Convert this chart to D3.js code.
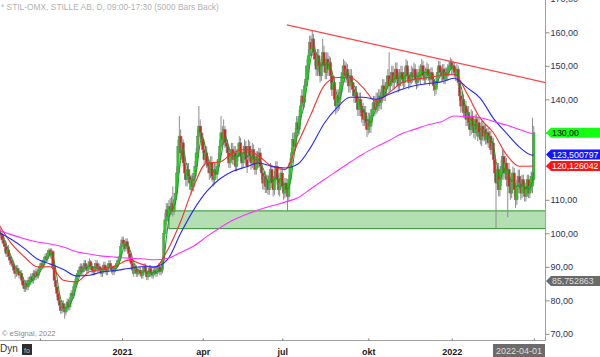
<!DOCTYPE html>
<html><head><meta charset="utf-8">
<script src="https://cdn.jsdelivr.net/npm/d3@7"></script>
<style>body{margin:0;background:#fff}svg{display:block;font-family:"Liberation Sans",Arial,sans-serif}</style>
</head><body><svg id="c" width="600" height="357"></svg>
<script>
// ---- data ----
const openP = [
102,101,100,99.5,98,97,96,94,95,93,
92,91,90.5,89,88,89.5,88.5,87.5,88,86,
84.5,83.5,85,84,86,85.5,87,86,88,87,
88.5,87.5,89,90,91,90.5,92,93,92.5,94,
95,93.5,94.5,90,86,84,82,80,78.5,77,
79,77.5,76.5,78,79.5,78,80,82,81.5,84,
85,87,88,89,90,88.5,89.5,91,90,
89,90.5,91.5,90,89,88.5,90,91,89.5,90,
89,88,89.5,90.5,89,88.5,90,91,90,89,
88.5,89.5,90,91,92,93,96,98,97,95.5,
97.5,96,94,92.5,91,88,90,89.5,88,
88.5,89,88,87.5,89,90,88.5,87,88,89.5,
88,87.5,88.5,89,88,89.5,90,88.5,89,92,
100,104,107,105,108,107,109,106.5,110,112,
118,126,129,124,127,121,118,116,119,117,
113,116,114,117,120,124,129,132,130,
128,125,122,124,121,120,118,121,117,116,
119,117.5,120,122,126,130,128,131,127,126,
124,121,123,125,122,124,120,123,125,127,
123,121,124,126,122,124,126,123,121,
125,122,119,123,121,124,120,118,115,117,
114,116,113,117,119,115,113,117,120,116,
113,115,118,114,112,115,113,111,116,121,
124,128,126,130,133,131,135,138,141,139,
144,146,150,153,157,155,158,154,152,
149,153,150,147,151,154,150,148,152,149,
151,147,143,145,140,138,141,139,142,145,
148,150,147,149,146,144,147,145,143,141,
142,139,137,140,138,137,134,136,133,
131,134,132,135,137,139,137,140,138,141,
139,142,144,141,143,145,147,144,146,148,
145,147,149,146,144,147,148,146,145,148,
150,147,145,146,148,147,149,146,145,147,
146,149,150,147,146,148,149,147,146,
148,146,144,143,145,148,150,148,147,149,
146,148,147,149,150,151,149,150,148,147,
149,145,141,138,140,136,138,134,136,133,
131,135,132,130,134,129,133,130,128,
132,129,131,128,130,127,129,125,127,122,
118,115,119,113,116,120,123,118,121,116,
119,114,112,116,118,113,110,114,117,115,
112,116,114,111,113,116,112,114,114,116];
const closeP = [
101,100,99.5,98,97,96,94,95,93,92,
91,90.5,89,88,89.5,88.5,87.5,88,86,84.5,
83.5,85,84,86,85.5,87,86,88,87,88.5,
87.5,89,90,91,90.5,92,93,92.5,94,95,
93.5,94.5,90,86,84,82,80,78.5,77,79,
77.5,76.5,78,79.5,78,80,82,81.5,84,85.5,
87,88,89,90,88.5,89.5,91,90,89,
90.5,91.5,90,89,88.5,90,91,89.5,90,89,
88,89.5,90.5,89,88.5,90,91,90,89,88.5,
89.5,90,91,92,93,96,98,97,95.5,97.5,
96,94,92.5,91,89,90,89.5,88,88.5,
89,88,87.5,89,90,88.5,87,88,89.5,88,
87.5,88.5,89,88,89.5,90,88.5,89,92,100,
104,107,105,108,107,109,106.5,110,112,118,
126,129,124,127,121,118,116,119,117,115,
116,114,117,120,124,129,132,130,128,
125,122,124,121,120,118,121,117,116,119,
117.5,120,122,126,130,128,131,127,126,124,
121,123,125,122,124,120,123,125,127,123,
121,124,126,122,120,126,123,121,125,
122,119,123,121,124,120,118,115,117,114,
116,113,117,119,115,113,117,120,116,113,
115,118,114,112,115,113,111,116,121,124,
128,126,130,133,131,135,138,141,139,144,
146,150,153,157,155,158,154,152,149,
153,150,147,151,154,150,148,152,149,151,
147,143,145,140,138,141,139,142,145,148,
150,147,149,146,144,147,145,143,141,142,
139,137,140,138,135,134,136,133,131,
134,132,135,137,139,137,140,138,141,139,
142,144,141,143,145,147,144,146,148,145,
147,149,146,144,147,148,146,145,148,150,
147,145,146,148,147,149,146,145,147,148,
149,150,147,146,148,149,147,146,148,
146,144,143,145,148,150,148,147,149,146,
148,147,149,150,151,149,150,148,147,149,
145,141,138,140,136,138,134,136,133,131,
135,132,130,134,131,133,130,128,132,
129,131,128,130,127,129,125,127,122,118,
115,119,113,116,120,123,118,121,116,119,
114,112,116,118,113,110,114,117,115,112,
116,114,111,113,116,112,114,117,118,130];
const highP = [
103,102,101.5,100.5,99.5,98,97.5,96,96.5,94,
93,92,91.5,90,90.5,90.5,89.5,89,89,87,
85.5,86,86,87,87,88,88,89,89,89.5,
89.5,90,91,92,92,93,94,94,95,95.5,
95.5,95.5,95,91,87,85,83,81,80,80,
80,79,79,80.5,80.5,81,83,83,85,86.5,
88,89,90,91,91,90.5,92,92,91,
91.5,92.5,92,91,90,91,92,92,91,91,
90,90.5,91.5,91.5,90,91,92,92,91,90,
90.5,91,92,93,94,97,99,99,98,98.5,
98.5,97,95,93.5,92,91,91,90.5,89.5,
90,90,89,90,91,91,89.5,89,90.5,90.5,
89,89.5,90,90,90.5,91,91,90,93,101,
106,109,109,110,110.5,111,114,112,114,120,
128,135,131,129,128,123,120,121,121,119,
117.5,118,118,121.5,125.5,131,138,134,132,
130,127,126,126,123,122,123,123,119,121,
121,122,124,128,135,132,134,132,129,128,
126,125,127,127,126,126,124.5,127,129,128.5,
124.5,126,128,127.5,124,128,127.5,124.5,127,
126.5,123.5,124.5,124.5,125.5,125.5,121.5,119.5,118.5,118.5,
117.5,117.5,118.5,121,120.5,116.5,118.5,121.5,121.5,117.5,
116.5,119.5,119.5,115.5,116.5,116.5,114.5,117.5,122.5,125.5,
130,130,131.5,135,134.5,137,140,143,143,145.5,
150,152,155,159,159,160.5,159.5,156,154,
155,155,152,153,158,156,152,154,154,153,
152.5,149,147,147,142,143,143,144,147,150,
152,151.5,151,150.5,148,149,149,147,145,144,
144,141,142,142,140,139,138,138,135,
136,136,137,139,141,141,142,142,143,143,
144,146,146,145,147,149,154,148,150,150,
149,151,151,148,149,150,150,148,149.5,152,
151.5,149,148,150,149.5,151,150.5,148,149,150,
150.5,152,151.5,148.5,149.5,151,150.5,148.5,149.5,
149.5,147.5,145.5,146.5,149.5,151.5,151.5,149.5,150.5,150.5,
149.5,149.5,150.5,151.5,152.5,152,151.5,151,149.5,150.5,
150,146.5,142.5,142,141.5,140,139.5,137.5,138,135,
137,136.5,133.5,135.5,135.5,134.5,134.5,131.5,133.5,
133.5,132.5,132.5,131.5,131.5,130.5,130.5,128.5,128.5,123.5,
120,121,121,118,122,125,124.5,123,122.5,121,
121,116,118,120,119.5,115,116,119,119,117,
117.5,117.5,115.5,115,117.5,117.5,115.5,118.5,134.5,132];
const lowP = [
100,98.5,98.5,97,96,94.5,93,93,92,90.5,
90,89.5,88,86.5,87,87.5,86.5,86.5,85,83.5,
82.5,82.5,83,83,84.5,84.5,85,85,86,86,
86.5,86.5,88,89,89.5,89.5,91,91.5,91.5,93,
92.5,92.5,89,85,83,81,79,77,76,76,
76.5,74.5,75.5,77,77,77,79,80.5,80.5,83,
84,86,87,88,87.5,87.5,88.5,89,88,
88,89.5,89,88,87.5,87.5,89,88.5,88.5,88,
87,87,88.5,88,87.5,87.5,89,89,88,87.5,
87.5,88.5,89,90,91,92,95,96,94.5,94.5,
95,93,91.5,90,88,87,88.5,87,87,
87.5,87,86.5,86.5,88,87.5,86,86,87,87,
86.5,86.5,87.5,87,87,88.5,87.5,87.5,88,91,
99,102.5,103.5,104,105.5,105.5,105,105.5,108.5,111,
117,124,122,122,120,116,114,114,115,113,
111.5,112.5,112.5,115.5,118.5,122.5,127,128,126,
124,120,120.5,119.5,118,116,116.5,115.5,114,114.5,
116,116,118.5,121,125,126,126.5,125.5,124,122,
119.5,119.5,121.5,120.5,120.5,118.5,118.5,121.5,123.5,121.5,
119.5,119.5,122.5,120.5,118,122,121.5,119,119.5,
120.5,117.5,117.5,119.5,119.5,118.5,116,113,113,112,
112,111.5,111.5,115.5,113.5,111,111.5,115.5,114.5,111.5,
111,113.5,112.5,110,110.5,111,106.5,109.5,114.5,119.5,
122.5,124,124.5,128.5,129,129.5,133.5,136,137,137.5,
142.5,144,148,151.5,153,153,152,150,147,
147,148,145,145.5,149.5,148,146,146,147,147,
145,141,141,138,135.5,136,136.5,137,140,143,
146,145,145,144,142,142,143,141,139,139,
137,135,135,136,133,132,132,131,128.7,
129.5,130,130,133,135,135,135.5,136,136.5,137,
137,140,139.5,139.5,141,143,142,142.5,144,143,
143,145,144,142,142.5,145,144,143,143.5,146,
145.5,143,143.5,144.5,145,145.5,144.5,143,143.5,145.5,
144.5,147.5,145.5,144.5,144.5,146.5,145.5,144,144.5,
144.5,142.5,141,141.5,143.5,146.5,146.5,145.5,145.5,144.5,
144.5,145.5,145.5,147.5,148.5,147.5,147.5,146.5,145.5,145.5,
144,139.5,136,136.5,134.5,134.5,132,132,131,129,
129.5,130.5,128.5,128,129.5,127.5,128.5,126.5,126,
127.5,127.5,126.5,126.5,125.5,125.5,123.5,123.5,120.5,115.5,
101.5,113,111,111,114,118,116,116.5,114,104.8,
112,110,110.5,114,111,107.5,108.5,112,113,110,
110.5,112,109.5,109.5,111,110.5,110.5,112.5,112,115];

const startDate = "2020-08-18";
const holidays = ["2020-12-24","2020-12-25","2020-12-31","2021-01-01","2021-01-06","2021-04-02","2021-04-05","2021-05-13","2021-06-25","2021-12-24","2021-12-31","2022-01-06"];
const monthNames = ["jan","feb","mar","apr","maj","jun","jul","aug","sep","okt","nov","dec"];

// moving averages at these bar indexes
const maIdx = [0,10,20,30,40,50,60,70,80,90,100,110,120,130,140,150,160,170,180,190,200,210,220,230,240,250,260,270,280,290,300,310,320,330,340,350,360,370,380,390,400,410,411];
const redMA = [103,97,93,90,90,86,85.5,88.5,89.3,90.2,92,90.8,89.7,95,103.5,114,121,121.3,124,125,123,120,119,127,135.5,144,146.5,146.5,143.5,139.3,142,145,146,146.5,147.2,147.5,141.5,134.3,130,123.5,120,120.1,120.13];
const blueMA = [100.3,98.2,95.5,92.3,90.8,89.2,87.3,87.5,88.5,88.9,89.5,90,90,92.2,100,107,112.5,116.2,118.5,119.8,121,120,119.5,120.7,125.8,132.7,137.5,140.6,140.6,140,141.5,143,144.1,144.7,145.2,146.3,143.4,140.3,134.3,129.9,125.7,123.3,123.5];
const magentaMA = [101,99.6,98.4,97.4,96.8,95.9,94.5,93.8,93.2,92.9,92.6,92.4,92.1,92.5,94.3,96.2,99,101.6,103.9,105.6,107,108.2,109.3,110.6,113.3,116,118.6,121.2,123.7,125.8,127.7,129.8,131.1,132.4,133.3,135,134.8,134.5,133.4,132.3,131,129.8,129.8];
const greenPeriod = 5;

const trendIdx = [221.5, 420];
const trendVal = [162.2, 145.0];
const zoneIdx = [131, 420];
const zoneVal = [101.4, 106.7];

const yTicks = [70,80,90,100,110,120,130,140,150,160,170];
const tagValues = [130, 123.500797, 120.126042, 85.752863];
const tagLabels = ["130,00", "123,500797", "120,126042", "85,752863"];
const tagFill = ["#12ff12", "#1414ff", "#ff1414", "#6a6a6a"];
const tagText = ["#000", "#fff", "#fff", "#dcdcdc"];
const titleText = "* STIL-OMX, STILLE AB, D, 09:00-17:30 (5000 Bars Back)";
const cursorDate = "2022-04-01";

// ---- build ----
const N = closeP.length;
const dates = [];
{
  const d = new Date(startDate + "T00:00:00Z");
  while (dates.length < N) {
    const s = d.toISOString().slice(0,10), dow = d.getUTCDay();
    if (dow !== 0 && dow !== 6 && !holidays.includes(s)) dates.push(new Date(d));
    d.setUTCDate(d.getUTCDate() + 1);
  }
}
const idxJan21 = dates.findIndex(d => d.getUTCFullYear() === 2021);
const AX = 545.5, BY = 340.5;
const x = d3.scaleLinear().domain([idxJan21, N - 1]).range([122, 533.8]);
const y = d3.scaleLinear().domain([70, 160]).range([333.8, 32.3]);

const svg = d3.select("#c");
svg.append("defs").append("clipPath").attr("id", "plot")
  .append("rect").attr("x", 0).attr("y", 0).attr("width", AX).attr("height", BY);
const plot = svg.append("g").attr("clip-path", "url(#plot)");

// support zone
plot.append("rect")
  .attr("x", x(zoneIdx[0])).attr("y", y(zoneVal[1]))
  .attr("width", x(zoneIdx[1]) - x(zoneIdx[0])).attr("height", y(zoneVal[0]) - y(zoneVal[1]))
  .attr("fill", "#b3dfb3").attr("stroke", "#2f922f").attr("stroke-width", 1);

// candles
const bars = d3.range(N);
plot.append("g").selectAll("line").data(bars).join("line")
  .attr("x1", i => x(i)).attr("x2", i => x(i))
  .attr("y1", i => y(highP[i])).attr("y2", i => y(lowP[i]))
  .attr("stroke", "#8c8c8c").attr("stroke-width", 1);
plot.append("g").selectAll("rect").data(bars).join("rect")
  .attr("x", i => x(i) - 1.2).attr("width", 2.4)
  .attr("y", i => y(Math.max(openP[i], closeP[i])))
  .attr("height", i => Math.max(0.8, Math.abs(y(openP[i]) - y(closeP[i]))))
  .attr("fill", i => closeP[i] >= openP[i] ? "#1fd01f" : "#e02020")
  .attr("stroke", "#7a7a7a").attr("stroke-width", 0.5);

// moving averages
const greenMA = bars.map(i => d3.mean(closeP.slice(Math.max(0, i - greenPeriod + 1), i + 1)));
const lineG = d3.line().x(i => x(i)).y(i => y(greenMA[i]));
plot.append("path").attr("d", lineG(bars)).attr("fill", "none").attr("stroke", "#12a012").attr("stroke-width", 1);
function maPath(vals, color) {
  const ln = d3.line().x((v, k) => x(maIdx[k])).y(v => y(v)).curve(d3.curveMonotoneX);
  plot.append("path").attr("d", ln(vals)).attr("fill", "none").attr("stroke", color).attr("stroke-width", 1.1);
}
maPath(redMA, "#ff2a2a");
maPath(blueMA, "#2626ff");
maPath(magentaMA, "#ff30ff");

// trend line
svg.append("line")
  .attr("x1", x(trendIdx[0])).attr("y1", y(trendVal[0]))
  .attr("x2", x(trendIdx[1])).attr("y2", y(trendVal[1]))
  .attr("stroke", "#ff4545").attr("stroke-width", 1.3);

// axes lines
svg.append("line").attr("x1", AX).attr("x2", AX).attr("y1", 0).attr("y2", BY).attr("stroke", "#a0a0a0");
svg.append("line").attr("x1", 0).attr("x2", AX).attr("y1", BY).attr("y2", BY).attr("stroke", "#a0a0a0");

// right axis
const yAxis = d3.axisRight(y).tickValues(yTicks).tickSize(4).tickPadding(1)
  .tickFormat(v => d3.format(".2f")(v).replace(".", ","));
const ya = svg.append("g").attr("transform", `translate(${AX},0)`).call(yAxis);
ya.select(".domain").remove();
ya.selectAll("line").attr("stroke", "#8a8a8a");
ya.selectAll("text").attr("font-size", 9).attr("fill", "#27325a").attr("font-family", "Liberation Sans, Arial, sans-serif");

// bottom axis ticks (first trading day of each quarter)
const qIdx = bars.filter(i => i > 0 && dates[i].getUTCMonth() % 3 === 0 && dates[i].getUTCMonth() !== dates[i-1].getUTCMonth());
const xAxis = d3.axisBottom(x).tickValues(qIdx).tickSize(0).tickPadding(8)
  .tickFormat(i => {
    const m = dates[i].getUTCMonth();
    return m === 0 ? String(dates[i].getUTCFullYear()) : monthNames[m];
  });
const xa = svg.append("g").attr("transform", `translate(0,${BY})`).call(xAxis);
xa.select(".domain").remove();
xa.selectAll("text").attr("font-size", 9).attr("font-weight", "bold").attr("fill", "#1a1a1a")
  .attr("font-family", "Liberation Sans, Arial, sans-serif")
  .attr("display", i => (x(i) < 60 || x(i) > 480) ? "none" : null);
xa.selectAll(".tick").append("line").attr("y1", -2).attr("y2", 0).attr("stroke", "#777");

// price tags
tagValues.forEach((v, k) => {
  const ty = y(v);
  svg.append("path")
    .attr("d", `M546,${ty} L551,${ty-5} L600,${ty-5} L600,${ty+5} L551,${ty+5} Z`)
    .attr("fill", tagFill[k]);
  svg.append("text").attr("x", 552).attr("y", ty + 3.2).attr("font-size", 8.8)
    .attr("fill", tagText[k]).text(tagLabels[k]);
});

// texts
svg.append("text").attr("x", 1).attr("y", 10).attr("font-size", 8.4).attr("fill", "#b2b2b2").text(titleText);
svg.append("text").attr("x", 2).attr("y", 336).attr("font-size", 7.5).attr("fill", "#8a8a8a").text("© eSignal, 2022");
svg.append("text").attr("x", 0).attr("y", 352).attr("font-size", 10).attr("fill", "#333").text("Dyn");
svg.append("rect").attr("x", 22).attr("y", 344).attr("width", 10).attr("height", 11).attr("fill", "#2e2e2e");
svg.append("text").attr("x", 27).attr("y", 353).attr("font-size", 7).attr("text-anchor", "middle").attr("fill", "#bbb").text("fo");
svg.append("rect").attr("x", 493).attr("y", 344).attr("width", 52).attr("height", 13).attr("fill", "#6b6b6b");
svg.append("text").attr("x", 519).attr("y", 353.5).attr("font-size", 9).attr("text-anchor", "middle").attr("fill", "#dedede").text(cursorDate);
</script></body></html>
